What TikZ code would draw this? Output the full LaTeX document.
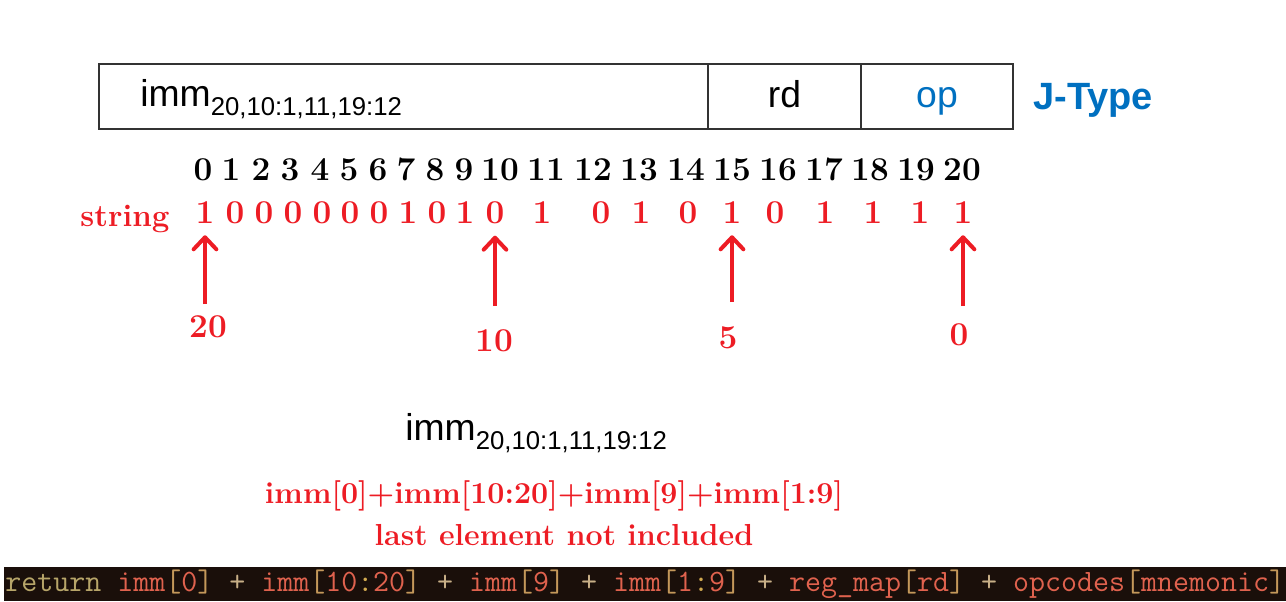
\documentclass[tikz,border=0pt]{standalone}
\usepackage{fontspec}
\newfontfamily\arial{Liberation Sans}
\usetikzlibrary{arrows.meta}
\definecolor{jred}{RGB}{237,28,36}
\definecolor{jblue}{RGB}{0,112,192}
\definecolor{codebg}{RGB}{26,15,10}
\definecolor{ckw}{RGB}{183,165,105}
\definecolor{cid}{RGB}{224,98,78}
\definecolor{cbr}{RGB}{196,152,90}
\definecolor{ccol}{RGB}{210,170,80}
\definecolor{cop}{RGB}{200,175,135}
\newcommand\cc[2]{\textcolor{#1}{#2}}
\newcommand\immtxt{{\arial\fontsize{28}{30}\selectfont imm\raisebox{-7pt}{\fontsize{19.3}{20}\selectfont 20,10:1,11,19:12}}}
\begin{document}
\begin{tikzpicture}[x=0.75pt,y=-0.75pt,
  field/.style={draw=black!80,line width=1pt,minimum height=48.75pt,inner sep=0pt},
  sanstxt/.style={font=\arial\fontsize{28}{30}\selectfont,anchor=base,inner sep=0pt},
  num/.style={font=\bfseries\fontsize{25}{28}\selectfont,anchor=base,inner sep=0pt},
  bit/.style={font=\bfseries\fontsize{25}{28}\selectfont,text=jred,anchor=base,inner sep=0pt},
  lbl/.style={font=\bfseries\fontsize{25}{28}\selectfont,text=jred,anchor=base,inner sep=0pt},
  redtxt/.style={font=\bfseries\fontsize{22.8}{26}\selectfont,text=jred,anchor=base,inner sep=0pt},
  arr/.style={draw=jred,line width=3pt,-{Straight Barb[length=9pt,width=17pt,round]},shorten >=9pt}]
\useasboundingbox (0,0) rectangle (1286,601);

% instruction format boxes
\node[field,minimum width=456.75pt] (fimm) at (403.5,96.5) {};
\node[field,minimum width=114.75pt] (frd) at (784.5,96.5) {};
\node[field,minimum width=114pt] (fop) at (937,96.5) {};
\node[anchor=base west,inner sep=0pt] (timm) at (140,106) {\immtxt};
\node[sanstxt] (trd) at (frd |- 0,107) {rd};
\node[sanstxt,text=jblue] (top) at (fop |- 0,107) {op};
\node[anchor=base west,inner sep=0pt,text=jblue,font=\arial\bfseries\fontsize{28.5}{30}\selectfont] (jtype) at (1033,109) {J-Type};

% index row
\foreach \i/\x in {0/203,1/231,2/261,3/290,4/320,5/349,6/378,7/406,8/435,9/464,10/500,11/546,12/593,13/639,14/686,15/732,16/778,17/824,18/870,19/916,20/962}
  \node[num] (n\i) at (\x,180) {\i};

% string row
\node[redtxt,font=\bfseries\fontsize{23.5}{26}\selectfont] (str) at (125,226) {string};
\foreach \i/\x/\v in {0/205/1,1/235/0,2/264/0,3/293/0,4/322/0,5/350/0,6/379/0,7/408/1,8/437/0,9/465/1,10/495/0,11/542/1,12/601/0,13/641/1,14/688/0,15/732/1,16/775/0,17/825/1,18/873/1,19/920/1,20/963/1}
  \node[bit] (b\i) at (\x,223) {\v};

% arrows and labels
\node[lbl] (l20) at (208,337) {20};
\node[lbl] (l10) at (494,351) {10};
\node[lbl] (l5) at (728,348) {5};
\node[lbl] (l0) at (959,345) {0};
\coordinate (t20) at (205,304);
\coordinate (t10) at (495,306);
\coordinate (t5) at (732,302);
\coordinate (t0) at (963,306);
\draw[arr] (t20) -- (b0.south);
\draw[arr] (t10) -- (b10.south);
\draw[arr] (t5) -- (b15.south);
\draw[arr] (t0) -- (b20.south);

% lower texts
\node[anchor=base west,inner sep=0pt] (bimm) at (405,440) {\immtxt};
\node[redtxt] (form) at (554,503) {imm[0]+imm[10:20]+imm[9]+imm[1:9]};
\node[redtxt] (note) at (564,545) {last element not included};

% code bar
\fill[codebg] (4,567) rectangle (1286,601);
\node[anchor=base west,inner sep=0pt,font=\ttfamily\fontsize{23.3}{24}\selectfont] (code) at (5,591)
  {\cc{ckw}{return} \cc{cid}{imm}\cc{cbr}{[}\cc{cid}{0}\cc{cbr}{]} \cc{cop}{+} \cc{cid}{imm}\cc{cbr}{[}\cc{cid}{10}\cc{ccol}{:}\cc{cid}{20}\cc{cbr}{]} \cc{cop}{+} \cc{cid}{imm}\cc{cbr}{[}\cc{cid}{9}\cc{cbr}{]} \cc{cop}{+} \cc{cid}{imm}\cc{cbr}{[}\cc{cid}{1}\cc{ccol}{:}\cc{cid}{9}\cc{cbr}{]} \cc{cop}{+} \cc{cid}{reg\_map}\cc{cbr}{[}\cc{cid}{rd}\cc{cbr}{]} \cc{cop}{+} \cc{cid}{opcodes}\cc{cbr}{[}\cc{cid}{mnemonic}\cc{cbr}{]}};
\end{tikzpicture}
\end{document}
